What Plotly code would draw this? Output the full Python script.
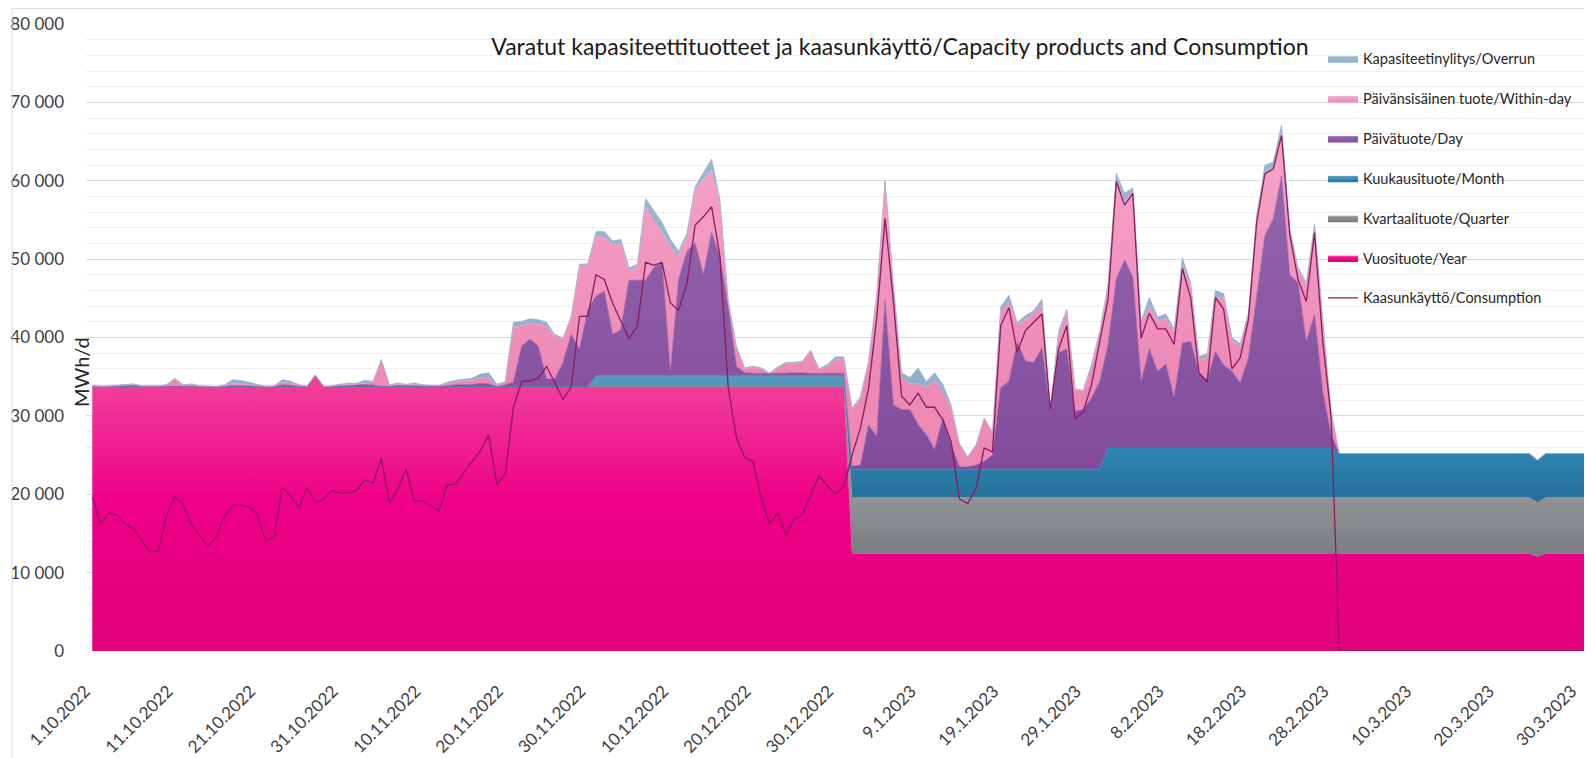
import pandas as pd
import plotly.graph_objects as go

# ---------------- data (MWh/d, one value per gas day 1.10.2022 - 31.3.2023) ----------------
start_date = "2022-10-01"
n_days = 182
dates = pd.date_range(start_date, periods=n_days, freq="D")

year = [
    33750, 33750, 33750, 33750, 33750, 33750, 33750, 33750, 33750, 33750,
    33750, 33750, 33750, 33750, 33750, 33750, 33750, 33750, 33750, 33750,
    33750, 33750, 33750, 33750, 33750, 33750, 33750, 35150, 33750, 33750,
    33750, 33750, 33750, 33750, 33750, 33750, 33750, 33750, 33750, 33750,
    33750, 33750, 33750, 33750, 33750, 33750, 33750, 33750, 33750, 33750,
    33750, 33750, 33750, 33750, 33750, 33750, 33750, 33750, 33750, 33750,
    33750, 33750, 33750, 33750, 33750, 33750, 33750, 33750, 33750, 33750,
    33750, 33750, 33750, 33750, 33750, 33750, 33750, 33750, 33750, 33750,
    33750, 33750, 33750, 33750, 33750, 33750, 33750, 33750, 33750, 33750,
    33750, 33750, 12450, 12450, 12450, 12450, 12450, 12450, 12450, 12450,
    12450, 12450, 12450, 12450, 12450, 12450, 12450, 12450, 12450, 12450,
    12450, 12450, 12450, 12450, 12450, 12450, 12450, 12450, 12450, 12450,
    12450, 12450, 12450, 12450, 12450, 12450, 12450, 12450, 12450, 12450,
    12450, 12450, 12450, 12450, 12450, 12450, 12450, 12450, 12450, 12450,
    12450, 12450, 12450, 12450, 12450, 12450, 12450, 12450, 12450, 12450,
    12450, 12450, 12450, 12450, 12450, 12450, 12450, 12450, 12450, 12450,
    12450, 12450, 12450, 12450, 12450, 12450, 12450, 12450, 12450, 12450,
    12450, 12450, 12450, 12450, 12450, 12020, 12450, 12450, 12450, 12450,
    12450, 12450,
]

quarter = [
    0, 0, 0, 0, 0, 0, 0, 0, 0, 0,
    0, 0, 0, 0, 0, 0, 0, 0, 0, 0,
    0, 0, 0, 0, 0, 0, 0, 0, 0, 0,
    0, 0, 0, 0, 0, 0, 0, 0, 0, 0,
    0, 0, 0, 0, 0, 0, 0, 0, 0, 0,
    0, 0, 0, 0, 0, 0, 0, 0, 0, 0,
    0, 0, 0, 0, 0, 0, 0, 0, 0, 0,
    0, 0, 0, 0, 0, 0, 0, 0, 0, 0,
    0, 0, 0, 0, 0, 0, 0, 0, 0, 0,
    0, 0, 7150, 7150, 7150, 7150, 7150, 7150, 7150, 7150,
    7150, 7150, 7150, 7150, 7150, 7150, 7150, 7150, 7150, 7150,
    7150, 7150, 7150, 7150, 7150, 7150, 7150, 7150, 7150, 7150,
    7150, 7150, 7150, 7150, 7150, 7150, 7150, 7150, 7150, 7150,
    7150, 7150, 7150, 7150, 7150, 7150, 7150, 7150, 7150, 7150,
    7150, 7150, 7150, 7150, 7150, 7150, 7150, 7150, 7150, 7150,
    7150, 7150, 7150, 7150, 7150, 7150, 7150, 7150, 7150, 7150,
    7150, 7150, 7150, 7150, 7150, 7150, 7150, 7150, 7150, 7150,
    7150, 7150, 7150, 7150, 7150, 6900, 7150, 7150, 7150, 7150,
    7150, 7150,
]

month = [
    0, 0, 0, 0, 0, 0, 0, 0, 0, 0,
    0, 0, 0, 0, 0, 0, 0, 0, 0, 0,
    0, 0, 0, 0, 0, 0, 0, 0, 0, 0,
    0, 0, 0, 0, 0, 0, 0, 0, 0, 0,
    0, 0, 0, 0, 0, 0, 0, 0, 0, 0,
    0, 0, 0, 0, 0, 0, 0, 0, 0, 0,
    0, 1400, 1400, 1400, 1400, 1400, 1400, 1400, 1400, 1400,
    1400, 1400, 1400, 1400, 1400, 1400, 1400, 1400, 1400, 1400,
    1400, 1400, 1400, 1400, 1400, 1400, 1400, 1400, 1400, 1400,
    1400, 1400, 3600, 3600, 3600, 3600, 3600, 3600, 3600, 3600,
    3600, 3600, 3600, 3600, 3600, 3600, 3600, 3600, 3600, 3600,
    3600, 3600, 3600, 3600, 3600, 3600, 3600, 3600, 3600, 3600,
    3600, 3600, 3600, 6300, 6300, 6300, 6300, 6300, 6300, 6300,
    6300, 6300, 6300, 6300, 6300, 6300, 6300, 6300, 6300, 6300,
    6300, 6300, 6300, 6300, 6300, 6300, 6300, 6300, 6300, 6300,
    6300, 5600, 5600, 5600, 5600, 5600, 5600, 5600, 5600, 5600,
    5600, 5600, 5600, 5600, 5600, 5600, 5600, 5600, 5600, 5600,
    5600, 5600, 5600, 5600, 5600, 5400, 5600, 5600, 5600, 5600,
    5600, 5600,
]

day_product = [
    0, 0, 0, 50, 100, 150, 0, 0, 0, 0,
    0, 0, 50, 0, 0, 0, 0, 100, 100, 50,
    0, 0, 0, 200, 150, 0, 0, 0, 0, 0,
    50, 100, 150, 250, 200, 0, 0, 150, 100, 100,
    50, 0, 0, 100, 200, 200, 250, 400, 350, 0,
    200, 550, 5150, 6050, 5150, 950, 950, 3050, 6650, 4750,
    9750, 10150, 10750, 5250, 5850, 12150, 12150, 12150, 13750, 14450,
    350, 12250, 15850, 16950, 12850, 18250, 15250, 8850, 1150, 350,
    300, 300, 250, 300, 300, 350, 300, 300, 250, 300,
    300, 300, 400, 500, 5600, 4200, 21500, 8200, 7600, 7600,
    5700, 4400, 2500, 6500, 3100, 300, 300, 500, 1000, 1800,
    10400, 11200, 16200, 13800, 13600, 15500, 7500, 14900, 15300, 7400,
    7600, 9100, 11200, 13200, 21600, 24000, 21800, 8500, 12600, 9800,
    10700, 6400, 13400, 13600, 9600, 8700, 12300, 10600, 9800, 8300,
    11500, 19100, 27100, 29200, 34700, 22100, 21100, 13600, 17000, 7200,
    1700, 0, 0, 0, 0, 0, 0, 0, 0, 0,
    0, 0, 0, 0, 0, 0, 0, 0, 0, 0,
    0, 0, 0, 0, 0, 0, 0, 0, 0, 0,
    0, 0,
]

within_day = [
    50, 0, 0, 50, 50, 100, 50, 50, 50, 200,
    1000, 150, 200, 50, 0, 0, 100, 300, 250, 200,
    100, 0, 50, 350, 300, 150, 0, 0, 0, 50,
    150, 200, 150, 200, 250, 3400, 100, 150, 100, 200,
    100, 100, 100, 250, 400, 500, 500, 700, 700, 100,
    300, 7100, 2600, 2000, 2800, 6700, 5500, 3000, 2200, 10600,
    5700, 7600, 6900, 11400, 11000, 1200, 1700, 9400, 6000, 3900,
    16100, 3000, 2000, 6800, 12200, 7900, 6600, 600, 2400, 500,
    750, 550, 0, 700, 1250, 1200, 1450, 2850, 500, 850,
    1750, 1850, 7200, 8500, 8000, 18000, 15200, 15300, 4000, 3300,
    5200, 6000, 8800, 3300, 4700, 2900, 1200, 2500, 5400, 2900,
    9700, 10100, 2200, 5300, 6200, 5500, 100, 2200, 4800, 2700,
    2400, 3700, 6000, 7400, 12500, 7500, 10900, 7300, 5500, 6300,
    5900, 8400, 9900, 7100, 1800, 2800, 6800, 8700, 3900, 4600,
    5400, 10200, 8000, 6500, 5600, 5500, 1600, 7200, 11200, 8400,
    2700, 0, 0, 0, 0, 0, 0, 0, 0, 0,
    0, 0, 0, 0, 0, 0, 0, 0, 0, 0,
    0, 0, 0, 0, 0, 0, 0, 0, 0, 0,
    0, 0,
]

overrun = [
    100, 50, 100, 100, 100, 100, 50, 50, 50, 50,
    50, 50, 100, 50, 50, 0, 100, 450, 400, 300,
    150, 50, 0, 300, 250, 100, 50, 0, 0, 50,
    100, 150, 100, 350, 200, 50, 100, 150, 100, 150,
    100, 50, 50, 200, 200, 200, 300, 500, 700, 200,
    100, 560, 580, 580, 600, 560, 190, 160, 130, 240,
    220, 610, 710, 520, 530, 410, 340, 1040, 1260, 1170,
    930, 640, 300, 360, 850, 1460, 650, 270, 200, 130,
    150, 130, 80, 110, 140, 140, 100, 70, 100, 250,
    330, 230, 200, 200, 200, 200, 100, 200, 700, 800,
    2000, 800, 1000, 1000, 400, 100, 100, 100, 100, 100,
    600, 900, 300, 500, 400, 700, 0, 500, 300, 100,
    100, 600, 500, 400, 1000, 1000, 500, 400, 1100, 600,
    500, 400, 1000, 400, 300, 500, 1000, 400, 400, 400,
    400, 500, 1000, 800, 900, 400, 400, 300, 400, 500,
    300, 0, 0, 0, 0, 0, 0, 0, 0, 0,
    0, 0, 0, 0, 0, 0, 0, 0, 0, 0,
    0, 0, 0, 0, 0, 0, 0, 0, 0, 0,
    0, 0,
]

consumption = [
    19600, 16270, 17590, 17340, 16190, 15630, 14140, 12610, 12780, 17300,
    19680, 18740, 16190, 14700, 13420, 14480, 17170, 18620, 18620, 18400,
    17380, 14060, 14480, 20870, 19810, 18320, 20790, 18960, 19380, 20450,
    20150, 20150, 20450, 21850, 21430, 24580, 18830, 20660, 23220, 19080,
    19170, 18530, 17890, 21210, 21300, 22790, 24150, 25560, 27560, 21210,
    22580, 31100, 34420, 34450, 34780, 36300, 34300, 32100, 33700, 42700,
    42700, 48000, 47400, 44400, 42100, 39900, 41400, 49600, 49200, 49600,
    44400, 43500, 46800, 54300, 55400, 56700, 50400, 33700, 27200, 24700,
    24150, 19600, 16190, 17590, 14780, 16830, 17380, 19810, 22370, 21090,
    20020, 21000, 25000, 28400, 33500, 42600, 55200, 44700, 32500, 31400,
    32900, 31100, 31100, 29500, 26700, 19400, 18800, 20700, 25900, 25400,
    41500, 43800, 38100, 40900, 41900, 43000, 30800, 38500, 41500, 29600,
    30500, 34000, 39600, 44900, 59900, 56900, 58400, 39900, 43100, 41100,
    41100, 39100, 48800, 45100, 35500, 34300, 45100, 43600, 36000, 37400,
    42300, 54700, 60900, 61500, 65800, 53200, 47400, 44600, 53400, 39500,
    30000, 0, 0, 0, 0, 0, 0, 0, 0, 0,
    0, 0, 0, 0, 0, 0, 0, 0, 0, 0,
    0, 0, 0, 0, 0, 0, 0, 0, 0, 0,
    0, 0,
]

tick_dates = [
    "2022-10-01", "2022-10-11", "2022-10-21", "2022-10-31", "2022-11-10",
    "2022-11-20", "2022-11-30", "2022-12-10", "2022-12-20", "2022-12-30",
    "2023-01-09", "2023-01-19", "2023-01-29", "2023-02-08", "2023-02-18",
    "2023-02-28", "2023-03-10", "2023-03-20", "2023-03-30",
]
tick_labels = [
    "1.10.2022", "11.10.2022", "21.10.2022", "31.10.2022", "10.11.2022",
    "20.11.2022", "30.11.2022", "10.12.2022", "20.12.2022", "30.12.2022",
    "9.1.2023", "19.1.2023", "29.1.2023", "8.2.2023", "18.2.2023",
    "28.2.2023", "10.3.2023", "20.3.2023", "30.3.2023",
]

title_text = "Varatut kapasiteettituotteet ja kaasunkäyttö/Capacity products and Consumption"
y_title = "MWh/d"

# ---------------- figure ----------------
FONT = "Lato, 'Open Sans', sans-serif"

area_specs = [
    # name, values, legend rank, colorscale (bottom -> top), gradient start, stop, edge colour
    ("Vuosituote/Year", year, 6,
     [[0, "#e2007c"], [0.55, "#ef0089"], [1, "#f0449b"]], 0, 35150, "#ee3a95"),
    ("Kvartaalituote/Quarter", quarter, 5,
     [[0, "#7b7e82"], [1, "#909396"]], 12450, 19600, "#8e9194"),
    ("Kuukausituote/Month", month, 4,
     [[0, "#25719b"], [0.4, "#2e86b2"], [1, "#5699bc"]], 19600, 35150, "#2e84b0"),
    ("Päivätuote/Day", day_product, 3,
     [[0, "#824c9c"], [1, "#9465ad"]], 23000, 61000, "#8650a1"),
    ("Päivänsisäinen tuote/Within-day", within_day, 2,
     [[0, "#ec89b5"], [1, "#f7a5c9"]], 33750, 67000, "#f39ac2"),
    ("Kapasiteetinylitys/Overrun", overrun, 1,
     [[0, "#8fb0cd"], [1, "#98b8d3"]], 30000, 67000, "#8eafcc"),
]

fig = go.Figure()
for name, vals, rank, cs, g0, g1, edge in area_specs:
    fig.add_trace(go.Scatter(
        x=dates, y=vals, name=name, mode="lines",
        stackgroup="capacity", legendrank=rank, legendgroup=name,
        line=dict(width=0.6, color=edge),
        fillgradient=dict(type="vertical", colorscale=cs, start=g0, stop=g1),
        hoverinfo="skip",
    ))

fig.add_trace(go.Scatter(
    x=dates, y=consumption, name="Kaasunkäyttö/Consumption", mode="lines",
    line=dict(color="#8c1a5e", width=1.3), legendrank=7,
    legendgroup="Kaasunkäyttö/Consumption", hoverinfo="skip",
))

# the page body adds an 8 px offset, so the figure is 8 px smaller than the window
fig.update_layout(
    width=1584, height=750,
    margin=dict(l=78, r=0, t=16, b=107, autoexpand=False),
    paper_bgcolor="white", plot_bgcolor="white",
    font=dict(family=FONT, color="#404040"),
    separators=", ",
    title=dict(text=title_text, x=0.5631, xanchor="center", y=0.948, yanchor="middle",
               font=dict(family=FONT, size=23, color="#1a1a1a")),
    legend=dict(x=0.8214, y=0.970, xanchor="left", yanchor="top",
                bgcolor="rgba(0,0,0,0)", font=dict(family=FONT, size=14.5, color="#262626"),
                tracegroupgap=18, itemwidth=30, traceorder="grouped"),
    showlegend=True,
)

fig.update_xaxes(
    type="date", automargin=False,
    range=["2022-09-30 05:46", "2023-03-31 14:24"],
    tickmode="array", tickvals=tick_dates, ticktext=tick_labels,
    tickangle=-45, tickfont=dict(family=FONT, size=17, color="#404040"),
    ticklabelstandoff=26, ticklabelshift=-7,
    showgrid=False, zeroline=False, showline=False, ticks="",
)
fig.update_yaxes(
    automargin=False,
    range=[0, 80000], dtick=10000, tickformat=",d",
    tickfont=dict(family=FONT, size=17, color="#404040"),
    showgrid=True, gridcolor="#d9d9d9", gridwidth=1,
    minor=dict(dtick=2000, showgrid=True, gridcolor="#efefef", gridwidth=1),
    zeroline=False, showline=False, ticks="", ticklabelstandoff=21,
)

fig.add_annotation(
    text=y_title, textangle=-90, xref="paper", yref="paper",
    x=-0.0033, y=0.445, xanchor="center", yanchor="middle", showarrow=False,
    font=dict(family=FONT, size=20, color="#262626"),
)

# chart-area border (left and top edge visible in the reference)
fig.add_shape(type="line", xref="paper", yref="paper", x0=-0.0491, x1=-0.0491, y0=-0.2, y1=1.0247,
              line=dict(color="#d9d9d9", width=1))
fig.add_shape(type="line", xref="paper", yref="paper", x0=-0.0491, x1=1.01, y0=1.0247, y1=1.0247,
              line=dict(color="#d9d9d9", width=1))

fig.write_html("out.html")
